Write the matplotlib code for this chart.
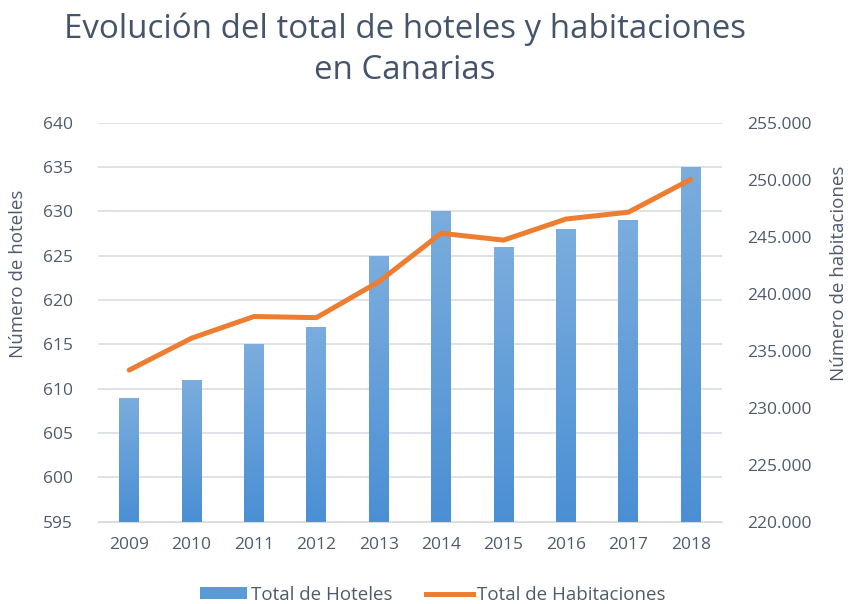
import matplotlib
matplotlib.use("Agg")
import matplotlib.pyplot as plt
import numpy as np
from matplotlib.patches import Patch
from matplotlib.lines import Line2D
from matplotlib.colors import LinearSegmentedColormap
from matplotlib.ticker import FuncFormatter

years = ["2009", "2010", "2011", "2012", "2013", "2014", "2015", "2016", "2017", "2018"]
hoteles = [609, 611, 615, 617, 625, 630, 626, 628, 629, 635]
habitaciones = [233300, 236100, 238000, 237900, 241050, 245300, 244700, 246550, 247150, 250030]
left_ticks = [595, 600, 605, 610, 615, 620, 625, 630, 635, 640]
right_ticks = [220000, 225000, 230000, 235000, 240000, 245000, 250000, 255000]

plt.rcParams['font.family'] = ['Open Sans', 'DejaVu Sans']
txt = '#4f5b6b'
W, H = 848, 604
fig = plt.figure(figsize=(W / 100, H / 100), dpi=100)
ax = fig.add_axes([98 / W, 1 - 521.7 / H, (722 - 98) / W, (521.7 - 122.7) / H])
x = np.arange(len(years))
bars = ax.bar(x, hoteles, width=0.32, color='#5b9bd5', zorder=2)
cmap = LinearSegmentedColormap.from_list('g', ['#4a8fd4', '#7badde'])
grad = np.linspace(0, 1, 256).reshape(-1, 1)
for b in bars:
    x0, y0 = b.get_x(), 595
    im = ax.imshow(grad, cmap=cmap, origin='lower', aspect='auto',
                   extent=(x0, x0 + b.get_width(), y0, b.get_height()), zorder=2.1)
    im.set_clip_path(b)
ax.set_xlim(-0.5, len(years) - 0.5)
ax.set_ylim(595, 640)
ax.set_yticks(left_ticks)
ax.set_xticks(x)
ax.set_xticklabels(years)
ax.grid(axis='y', color='#d9dde3', linewidth=1.2, zorder=0)
for s in ax.spines.values():
    s.set_visible(False)
ax.spines['bottom'].set_visible(True)
ax.spines['bottom'].set_color('#d9d9d9')
ax.tick_params(axis='both', length=0, labelsize=12.5, colors=txt)
ax.tick_params(axis='y', pad=18)
ax.tick_params(axis='x', pad=11)
ax.set_ylabel('Número de hoteles', fontsize=13.5, color=txt, va='center', ha='center')
ax.yaxis.set_label_coords((18 - 98) / 624, (521.7 - 274) / 399)

ax2 = ax.twinx()
ax2.plot(x, habitaciones, color='#ed7d31', linewidth=3.6, solid_capstyle='round',
         solid_joinstyle='round', zorder=3)
ax2.set_ylim(220000, 255000)
ax2.set_yticks(right_ticks)
ax2.yaxis.set_major_formatter(FuncFormatter(lambda v, p: f"{v:,.0f}".replace(',', '.')))
for s in ax2.spines.values():
    s.set_visible(False)
ax2.tick_params(axis='y', length=0, labelsize=12.5, colors=txt, pad=18)
ax2.set_ylabel('Número de habitaciones', fontsize=13.5, color=txt, va='center', ha='center')
ax2.yaxis.set_label_coords((839 - 98) / 624, (521.7 - 273) / 399)
ax.set_xlim(-0.5, len(years) - 0.5)

fig.text(405 / W, 1 - 50 / H, 'Evolución del total de hoteles y habitaciones\nen Canarias',
         ha='center', va='center', fontsize=23.8, color='#44546a', linespacing=1.3)

handles = [Patch(facecolor='#5b9bd5', edgecolor='none'),
           Line2D([0], [0], color='#ed7d31', linewidth=3.6)]
fig.legend(handles, ['Total de Hoteles', 'Total de Habitaciones'], loc='center',
           bbox_to_anchor=(433 / W, 1 - 595 / H), ncol=2, frameon=False,
           fontsize=13.5, labelcolor=txt, handlelength=2.5, handleheight=0.6,
           handletextpad=0.2, columnspacing=1.8)
fig.savefig('out.png', dpi=100)
